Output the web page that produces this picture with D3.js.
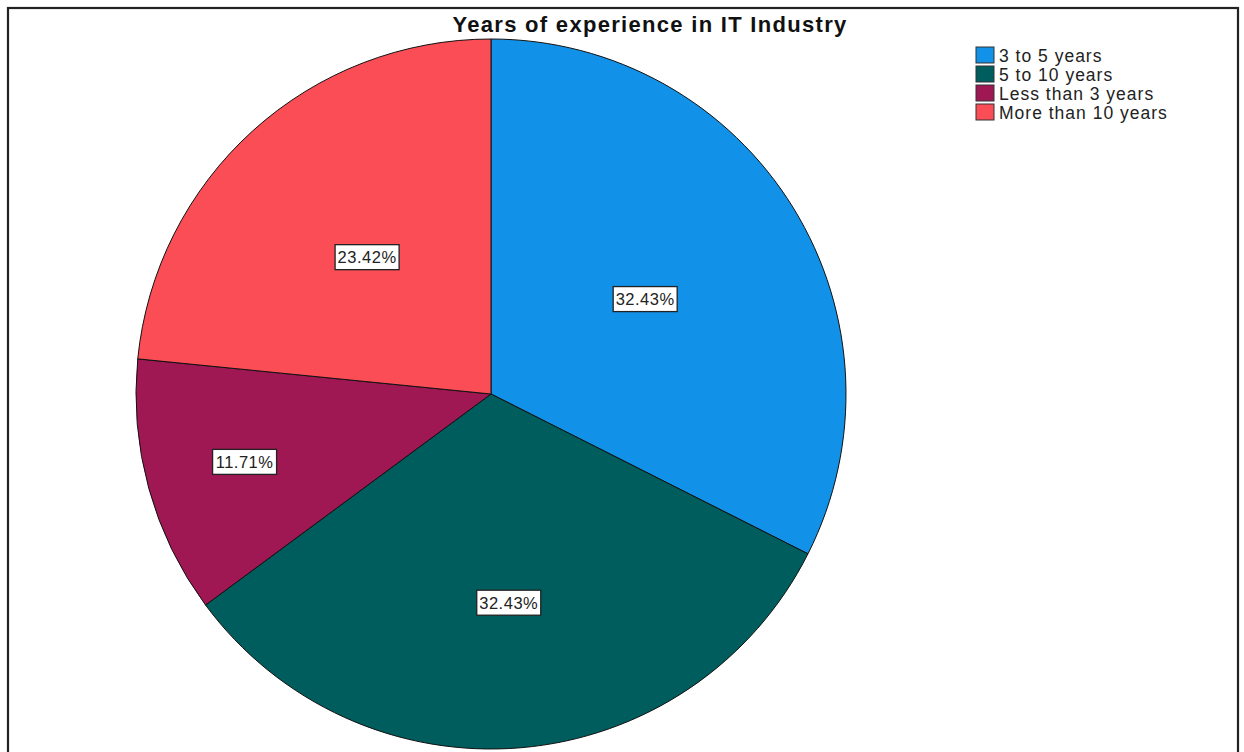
<!DOCTYPE html>
<html>
<head>
<meta charset="utf-8">
<script src="https://cdn.jsdelivr.net/npm/d3@7/dist/d3.min.js"></script>
<style>
  html, body { margin: 0; padding: 0; background: #fff; }
  svg { display: block; }
  text { font-family: Arial, "Liberation Sans", sans-serif; }
</style>
</head>
<body>
<svg id="chart" width="1244" height="752"></svg>
<script>
// Share of respondents by years of experience in the IT industry
const categories = ["3 to 5 years", "5 to 10 years", "Less than 3 years", "More than 10 years"];
const percents = [32.43, 32.43, 11.71, 23.42];
const colors = ["#1192e8", "#005d5d", "#9f1853", "#fa4d56"];
const chartTitle = "Years of experience in IT Industry";

// Layout
const cx = 491, cy = 394, R = 355;
// distance of each value label from the centre, as a fraction of the radius
const labelDist = [0.51, 0.59, 0.72, 0.52];

const svg = d3.select("#chart");

// outer frame
svg.append("rect")
  .attr("x", 8).attr("y", 8)
  .attr("width", 1230).attr("height", 760)
  .attr("fill", "none")
  .attr("stroke", "#222")
  .attr("stroke-width", 2.2);

const data = categories.map((c, i) => ({ cat: c, value: percents[i], color: colors[i], i }));

const pie = d3.pie().sort(null).value(d => d.value);
const arcs = pie(data);
const arc = d3.arc().innerRadius(0).outerRadius(R);

const g = svg.append("g").attr("transform", `translate(${cx},${cy})`);

g.selectAll("path.slice")
  .data(arcs)
  .join("path")
  .attr("class", "slice")
  .attr("d", arc)
  .attr("fill", d => d.data.color)
  .attr("stroke", "#111")
  .attr("stroke-width", 1);

// value labels in white boxes
const labels = g.selectAll("g.lbl")
  .data(arcs)
  .join("g")
  .attr("class", "lbl")
  .attr("transform", d => {
    const a = (d.startAngle + d.endAngle) / 2;
    const r = R * labelDist[d.data.i];
    return `translate(${Math.sin(a) * r},${-Math.cos(a) * r})`;
  });

labels.append("rect")
  .attr("x", -32).attr("y", -12.5)
  .attr("width", 64).attr("height", 25)
  .attr("fill", "#fff")
  .attr("stroke", "#222")
  .attr("stroke-width", 1.3);

labels.append("text")
  .attr("text-anchor", "middle")
  .attr("y", 6)
  .attr("font-size", 16.5)
  .attr("letter-spacing", 0.5)
  .attr("fill", "#222")
  .text(d => d.data.value.toFixed(2) + "%");

// title
svg.append("text")
  .attr("x", 650).attr("y", 32)
  .attr("text-anchor", "middle")
  .attr("font-size", 22)
  .attr("font-weight", "bold")
  .attr("letter-spacing", 1.3)
  .attr("fill", "#111")
  .text(chartTitle);

// legend
const legend = svg.append("g").attr("transform", "translate(976,47)");
const rows = legend.selectAll("g")
  .data(data)
  .join("g")
  .attr("transform", (d, i) => `translate(0,${i * 19})`);

rows.append("rect")
  .attr("width", 18).attr("height", 16)
  .attr("fill", d => d.color)
  .attr("stroke", "#333")
  .attr("stroke-width", 1);

rows.append("text")
  .attr("x", 23).attr("y", 15)
  .attr("font-size", 17.5)
  .attr("letter-spacing", 1)
  .attr("fill", "#222")
  .text(d => d.cat);
</script>
</body>
</html>
